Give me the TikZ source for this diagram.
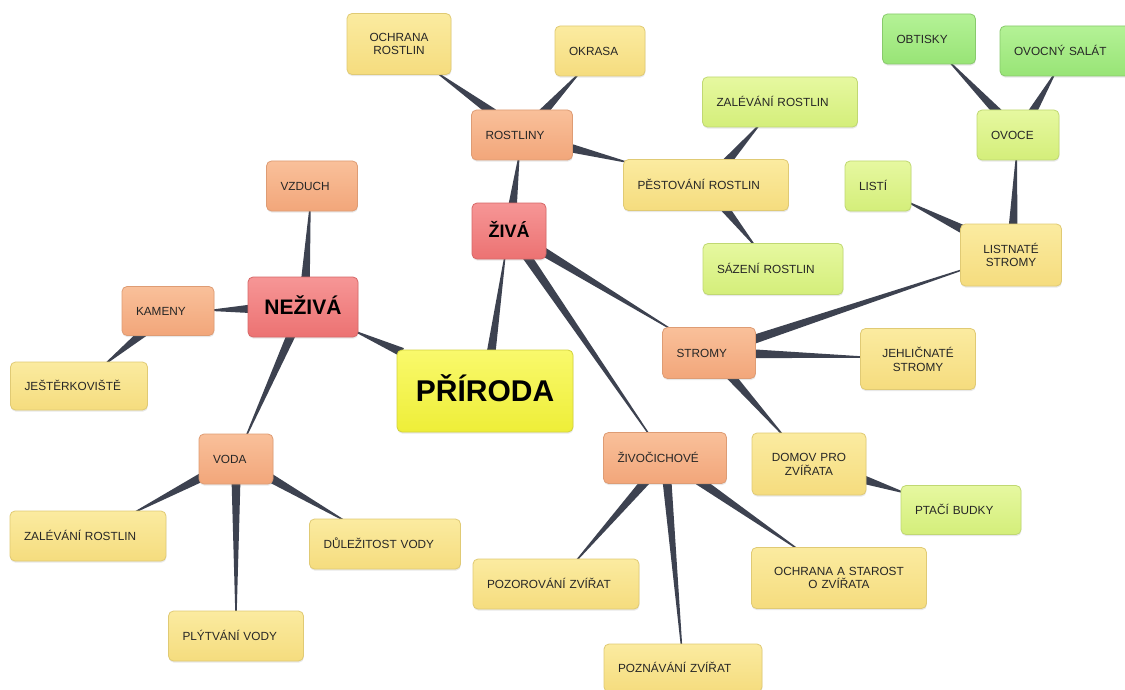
\documentclass[tikz,border=0pt]{standalone}
\usepackage{fontspec}
\setmainfont{Liberation Sans}
\usetikzlibrary{calc,shadows,backgrounds}
\definecolor{connc}{HTML}{3D4250}
\definecolor{txt}{HTML}{262626}
\definecolor{yelT}{HTML}{F9F96C}\definecolor{yelB}{HTML}{EEEE38}\definecolor{yelD}{HTML}{D2D23C}
\definecolor{redT}{HTML}{F69696}\definecolor{redB}{HTML}{EC7272}\definecolor{redD}{HTML}{D66868}
\definecolor{orT}{HTML}{F9C09A}\definecolor{orB}{HTML}{F2A67A}\definecolor{orD}{HTML}{DE9C74}
\definecolor{lyT}{HTML}{FBEBA0}\definecolor{lyB}{HTML}{F5DC7E}\definecolor{lyD}{HTML}{E0CA74}
\definecolor{ygT}{HTML}{E6F8A0}\definecolor{ygB}{HTML}{D4EE7A}\definecolor{ygD}{HTML}{C0D872}
\definecolor{grT}{HTML}{B4F296}\definecolor{grB}{HTML}{98E476}\definecolor{grD}{HTML}{88CA6C}
\tikzset{
  base/.style={rounded corners=5pt, draw, line width=0.8pt, inner xsep=14pt, inner ysep=2pt,
    align=left, font=\fontsize{11.8}{13.8}\selectfont, text=txt,
    drop shadow={shadow xshift=0.4pt, shadow yshift=-1.6pt, opacity=0.18}},
  one/.style={text height=8.4pt, text depth=0pt},
  two/.style={align=center},
  big/.style={inner xsep=0pt, text=black, align=center},
  cyel/.style={top color=yelT, bottom color=yelB, draw=yelD},
  cred/.style={top color=redT, bottom color=redB, draw=redD},
  cor/.style={top color=orT, bottom color=orB, draw=orD},
  cly/.style={top color=lyT, bottom color=lyB, draw=lyD},
  cyg/.style={top color=ygT, bottom color=ygB, draw=ygD},
  cgr/.style={top color=grT, bottom color=grB, draw=grD},
  connfill/.style={fill=connc}
}
\newcommand\mmlink[2]{%
  \fill[connfill] let \p1=($(#2.center)-(#1.center)$), \n1={atan2(\y1,\x1)}, \n2={\n1+180},
    \p3=($(#1.\n1)!-6pt!(#2.\n2)$), \p4=($(#2.\n2)!-3pt!(#1.\n1)$) in
    ($(\p3)!4.5pt!90:(\p4)$) -- ($(\p3)!4.5pt!-90:(\p4)$) --
    ($(\p4)!0.7pt!90:(\p3)$) -- ($(\p4)!0.7pt!-90:(\p3)$) -- cycle;}
\begin{document}
\begin{tikzpicture}[x=1pt,y=-1pt]
\useasboundingbox (0,0) rectangle (1125,690);
% central
\node[base,cyel,big,minimum width=176pt,minimum height=82pt,font=\bfseries\fontsize{30}{32}\selectfont,text height=21.5pt,text depth=0pt] (pri) at (485,391) {PŘÍRODA};
\node[base,cred,big,minimum width=110pt,minimum height=60pt,font=\bfseries\fontsize{21}{23}\selectfont,text height=15pt,text depth=0pt] (nez) at (303,307) {NEŽIVÁ};
\node[base,cred,big,minimum width=74pt,minimum height=56pt,font=\bfseries\fontsize{18}{20}\selectfont,text height=12.9pt,text depth=0pt] (ziva) at (509,231) {ŽIVÁ};
% neziva
\node[base,cor,one,text width=63pt,minimum height=50pt] (vzd) at (312,186) {VZDUCH};
\node[base,cor,one,text width=64pt,minimum height=49pt] (kam) at (168,311) {KAMENY};
\node[base,cly,one,text width=109pt,minimum height=48pt] (jes) at (79,386) {JEŠTĚRKOVIŠTĚ};
\node[base,cor,one,text width=46pt,minimum height=50pt] (voda) at (236,459) {VODA};
\node[base,cly,one,text width=128pt,minimum height=50pt] (zall) at (88,536) {ZALÉVÁNÍ ROSTLIN};
\node[base,cly,one,text width=107pt,minimum height=50pt] (ply) at (236,636) {PLÝTVÁNÍ VODY};
\node[base,cly,one,text width=123pt,minimum height=50pt] (dul) at (385,544) {DŮLEŽITOST VODY};
% rostliny
\node[base,cor,one,text width=73pt,minimum height=50pt] (ros) at (522,135) {ROSTLINY};
\node[base,cly,two,text width=76pt,minimum height=61pt] (ochr) at (399,44) {OCHRANA\\ROSTLIN};
\node[base,cly,one,text width=62pt,minimum height=50pt] (okr) at (600,51) {OKRASA};
\node[base,cly,one,text width=137pt,minimum height=51pt] (pes) at (706,185) {PĚSTOVÁNÍ ROSTLIN};
\node[base,cyg,one,text width=127pt,minimum height=50pt] (zalt) at (780,102) {ZALÉVÁNÍ ROSTLIN};
\node[base,cyg,one,text width=112pt,minimum height=51pt] (saz) at (773,269) {SÁZENÍ ROSTLIN};
% stromy
\node[base,cor,one,text width=65pt,minimum height=51pt] (str) at (709,353) {STROMY};
\node[base,cly,two,text width=73pt,minimum height=62pt] (lis) at (1011,255) {LISTNATÉ\\STROMY};
\node[base,cyg,one,text width=38pt,minimum height=50pt] (listi) at (878,186) {LISTÍ};
\node[base,cyg,one,text width=54pt,minimum height=50pt] (ovo) at (1018,135) {OVOCE};
\node[base,cgr,one,text width=65pt,minimum height=50pt] (obt) at (929,39) {OBTISKY};
\node[base,cgr,one,text width=110pt,minimum height=50pt] (ovs) at (1069,51) {OVOCNÝ SALÁT};
\node[base,cly,two,text width=87pt,minimum height=61pt] (jeh) at (918,359) {JEHLIČNATÉ\\STROMY};
\node[base,cly,two,text width=86pt,minimum height=62pt] (dom) at (809,464) {DOMOV PRO\\ZVÍŘATA};
\node[base,cyg,one,text width=92pt,minimum height=49pt] (pta) at (961,510) {PTAČÍ BUDKY};
% zivocichove
\node[base,cor,one,text width=95pt,minimum height=51pt] (ziv) at (665,458) {ŽIVOČICHOVÉ};
\node[base,cly,one,text width=138pt,minimum height=50pt] (poz) at (556,584) {POZOROVÁNÍ ZVÍŘAT};
\node[base,cly,one,text width=130pt,minimum height=48pt] (pzn) at (683,668) {POZNÁVÁNÍ ZVÍŘAT};
\node[base,cly,two,text width=147pt,minimum height=61pt] (ochz) at (839,578) {OCHRANA A STAROST\\O ZVÍŘATA};
\begin{scope}[on background layer]
\fill[white] (0,0) rectangle (1125,690);
\mmlink{pri}{nez}\mmlink{pri}{ziva}
\mmlink{nez}{vzd}\mmlink{nez}{kam}\mmlink{nez}{voda}
\mmlink{kam}{jes}
\mmlink{voda}{zall}\mmlink{voda}{ply}\mmlink{voda}{dul}
\mmlink{ziva}{ros}\mmlink{ziva}{str}\mmlink{ziva}{ziv}
\mmlink{ros}{ochr}\mmlink{ros}{okr}\mmlink{ros}{pes}
\mmlink{pes}{zalt}\mmlink{pes}{saz}
\mmlink{str}{lis}\mmlink{str}{jeh}\mmlink{str}{dom}
\mmlink{lis}{listi}\mmlink{lis}{ovo}
\mmlink{ovo}{obt}\mmlink{ovo}{ovs}
\mmlink{dom}{pta}
\mmlink{ziv}{poz}\mmlink{ziv}{pzn}\mmlink{ziv}{ochz}
\end{scope}
\end{tikzpicture}
\end{document}
